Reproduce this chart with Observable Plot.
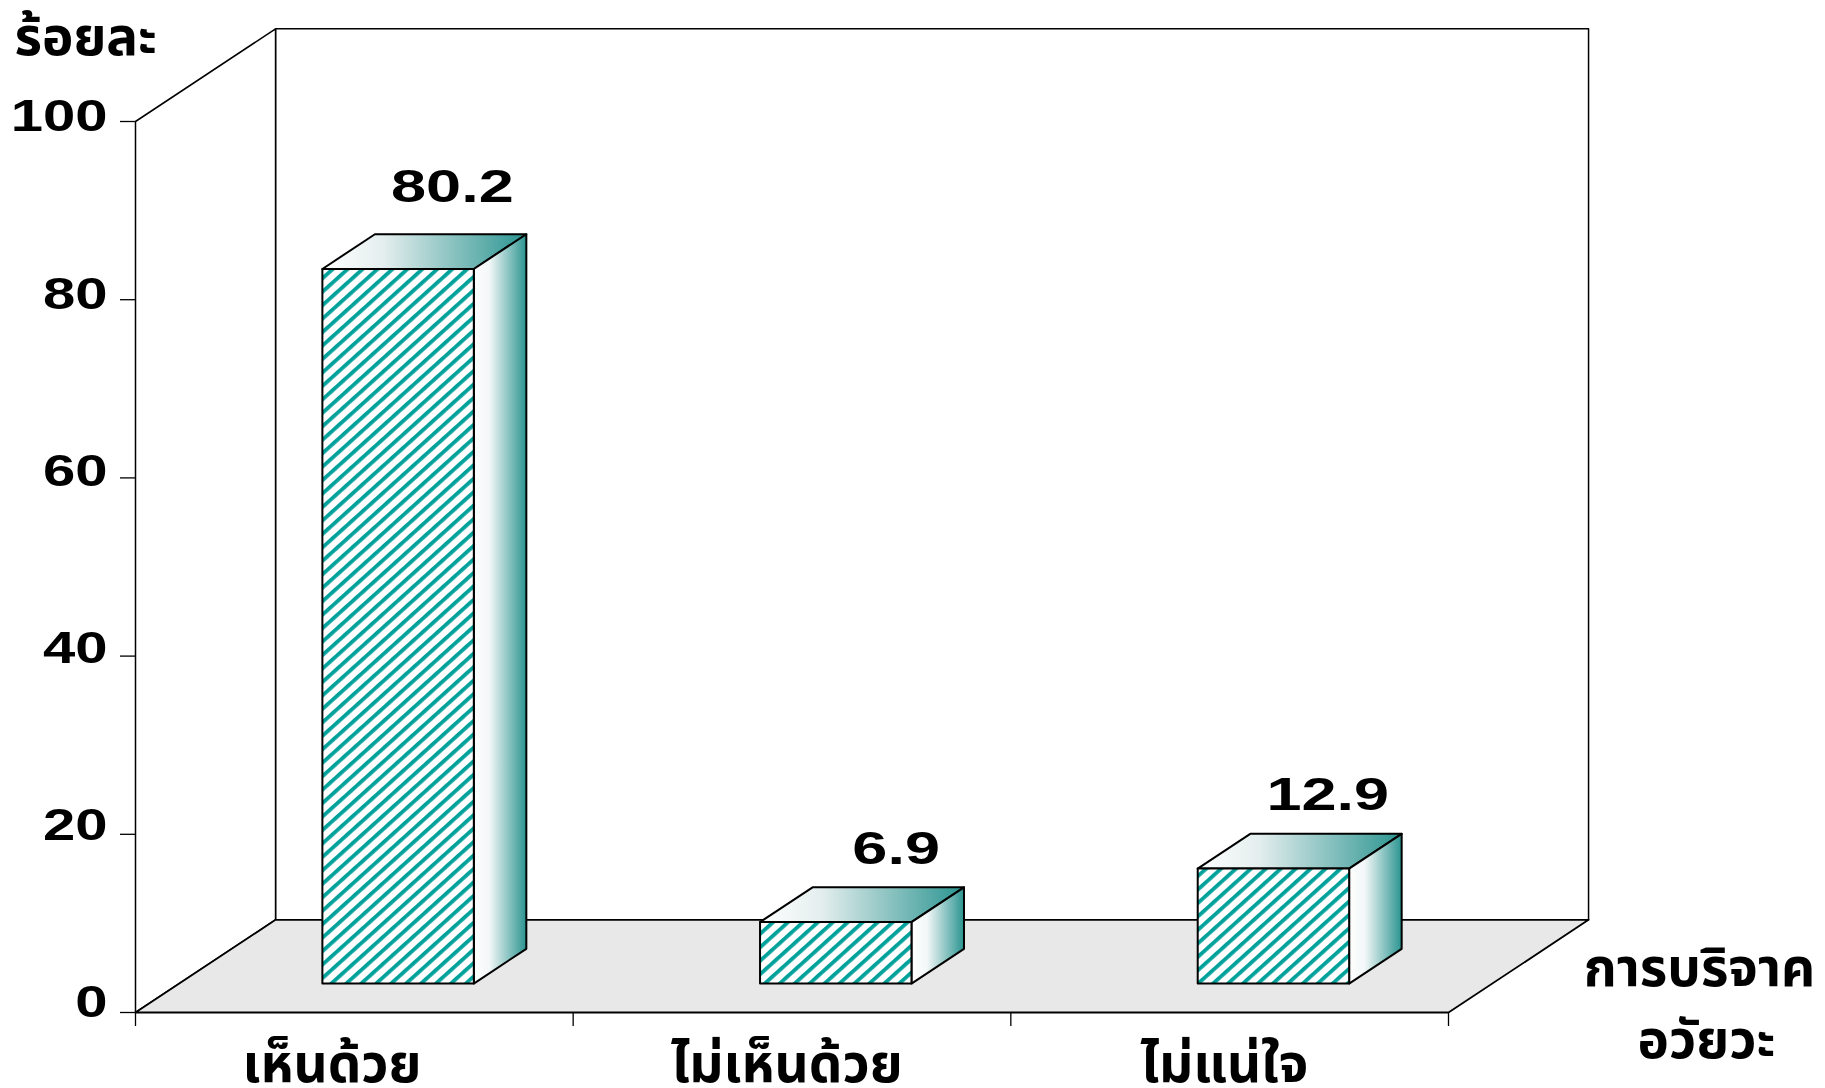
<!DOCTYPE html>
<html><head><meta charset="utf-8">
<script src="https://cdn.jsdelivr.net/npm/d3@7"></script>
<script src="https://cdn.jsdelivr.net/npm/@observablehq/plot@0.6"></script>
<style>html,body{margin:0;padding:0;background:#fff}svg{display:block}</style>
</head><body><div id="c"></div>
<script>
const categories = ["เห็นด้วย", "ไม่เห็นด้วย", "ไม่แน่ใจ"];
const values = [80.2, 6.9, 12.9];
const valueLabels = ["80.2", "6.9", "12.9"];
const yTicks = [0, 20, 40, 60, 80, 100];
const xTicks = [0, 1, 2, 3];
const yTitle = "ร้อยละ";
const xTitle = ["การบริจาค", "อวัยวะ"];

// oblique projection of (category position, value, depth) into data units
const DX = 0.32, DV = 10.4;
const P = (x, v, z) => ({x: x + z * DX, y: v + z * DV});
const poly = (id, pts) => pts.concat([pts[0]]).map(([x, v, z]) => ({id, ...P(x, v, z)}));

const Z0 = 0.3125, Z1 = 0.6875, BW = 0.173;
const frontF = [], topF = [], sideF = [];
values.forEach((v, i) => {
  const a = i + 0.5 - BW, b = i + 0.5 + BW;
  frontF.push(...poly("f" + i, [[a,0,Z0],[b,0,Z0],[b,v,Z0],[a,v,Z0]]));
  topF.push(...poly("t" + i, [[a,v,Z0],[b,v,Z0],[b,v,Z1],[a,v,Z1]]));
  sideF.push(...poly("s" + i, [[b,0,Z0],[b,0,Z1],[b,v,Z1],[b,v,Z0]]));
});
const floor = poly("floor", [[0,0,0],[3,0,0],[3,0,1],[0,0,1]]);
const back = poly("back", [[0,0,1],[3,0,1],[3,100,1],[0,100,1]]);
const left = poly("left", [[0,0,0],[0,100,0],[0,100,1],[0,0,1]]);

const NUM = "'Liberation Sans', Arial, sans-serif";
const THAI = "'Noto Sans Thai', 'Noto Sans', 'DejaVu Sans', sans-serif";
const stretch = (fs, k) => ({
  render(index, scales, vals, dims, ctx, next) {
    const g = next(index, scales, vals, dims, ctx);
    d3.select(g).selectAll("text").attr("lengthAdjust", "spacingAndGlyphs").each(function () {
      const t = this.textContent;
      const w = [...t].reduce((s, c) => s + (c === "." ? 0.278 : 0.556), 0) * fs * k;
      d3.select(this).attr("textLength", w);
    });
    return g;
  }
});
const defs = () => {
  const d = d3.create("svg:defs");
  for (const id of ["gTop", "gSide"]) {
    const g = d.append("linearGradient").attr("id", id);
    g.append("stop").attr("offset", "0%").attr("stop-color", "#ffffff");
    g.append("stop").attr("offset", "30%").attr("stop-color", id === "gTop" ? "#e4eeee" : "#f2f7f7");
    g.append("stop").attr("offset", "100%").attr("stop-color", "#2a9490");
  }
  const p = d.append("pattern").attr("id", "hatch").attr("patternUnits", "userSpaceOnUse")
    .attr("width", 10).attr("height", 10).attr("patternTransform", "rotate(48)");
  p.append("rect").attr("width", 10).attr("height", 10).attr("fill", "#fff");
  p.append("rect").attr("width", 3.8).attr("height", 10).attr("fill", "#00a19b");
  return d.node();
};

const chart = Plot.plot({
  width: 1825, height: 1088,
  marginLeft: 135, marginRight: 377, marginTop: 121, marginBottom: 76,
  x: {domain: [0, 3]},
  y: {domain: [0, 100]},
  style: {background: "#fff", color: "#000"},
  marks: [
    defs,
    Plot.line(back, {x: "x", y: "y", z: "id", fill: "#fff", stroke: "#000", strokeWidth: 1.5}),
    Plot.line(left, {x: "x", y: "y", z: "id", fill: "#fff", stroke: "#000", strokeWidth: 1.5}),
    Plot.line(floor, {x: "x", y: "y", z: "id", fill: "#e8e8e8", stroke: "#000", strokeWidth: 1.8}),
    Plot.axisX({ticks: xTicks, tickSize: 14, text: null, label: null, strokeWidth: 1.3}),
    Plot.axisY({ticks: yTicks, tickSize: 15, text: null, label: null, strokeWidth: 1.3}),
    Plot.line(topF, {x: "x", y: "y", z: "id", fill: "url(#gTop)", stroke: "#000", strokeWidth: 2, strokeLinejoin: "round"}),
    Plot.line(sideF, {x: "x", y: "y", z: "id", fill: "url(#gSide)", stroke: "#000", strokeWidth: 2, strokeLinejoin: "round"}),
    Plot.line(frontF, {x: "x", y: "y", z: "id", fill: "url(#hatch)", stroke: "#000", strokeWidth: 2, strokeLinejoin: "round"}),
    Plot.text(yTicks, {x: () => 0, y: d => 1.4 + d * 0.994, text: d => String(d), dx: -28, dy: 3, textAnchor: "end",
      fontFamily: NUM, fontWeight: 700, fontSize: 44, ...stretch(44, 1.32)}),
    Plot.text(values, {x: (d, i) => i === 1 ? i + 0.738 : i + 0.724, y: (d, i) => d + (i === 0 ? 1 : 0), text: (d, i) => valueLabels[i], dy: -102,
      fontFamily: NUM, fontWeight: 700, fontSize: 46, ...stretch(46, 1.37)}),
    Plot.text(categories, {x: (d, i) => i === 0 ? 0.449 : i + 0.488, y: () => 0, text: d => d, dy: 53,
      fontFamily: THAI, fontWeight: 700, fontSize: 53}),
    Plot.text([yTitle], {x: () => 0, y: () => 100, text: d => d, dx: -121, dy: -83, textAnchor: "start",
      fontFamily: THAI, fontWeight: 700, fontSize: 53}),
    Plot.text([xTitle[0]], {x: () => 3, y: () => 0, text: d => d, dx: 251, dy: -43,
      fontFamily: THAI, fontWeight: 700, fontSize: 53}),
    Plot.text([xTitle[1]], {x: () => 3, y: () => 0, text: d => d, dx: 258, dy: 29,
      fontFamily: THAI, fontWeight: 700, fontSize: 53})
  ]
});
document.getElementById("c").append(chart);
</script></body></html>
